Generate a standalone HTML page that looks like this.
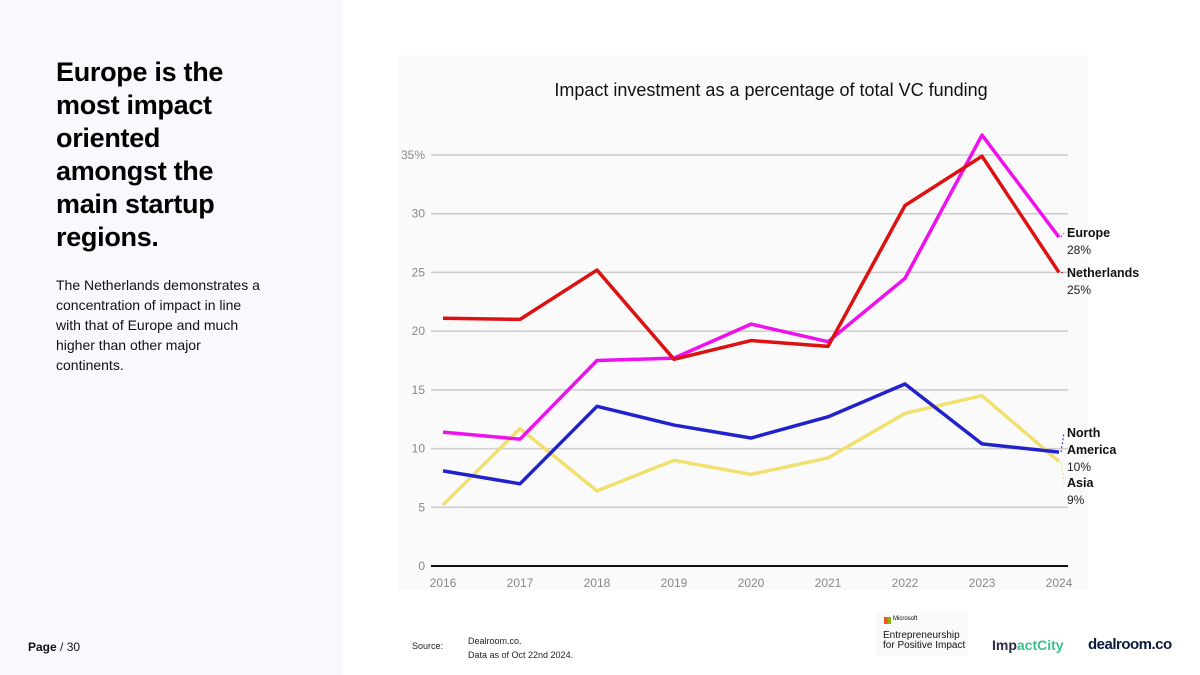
<!DOCTYPE html>
<html><head><meta charset="utf-8">
<style>
html,body{margin:0;padding:0;width:1200px;height:675px;overflow:hidden;background:#fff;font-family:"Liberation Sans",sans-serif;}
#left{position:absolute;left:0;top:0;width:342px;height:675px;background:#f8f9fd;}
#headline{position:absolute;left:56px;top:56px;font-size:27px;font-weight:bold;line-height:33px;color:#000;margin:0;letter-spacing:-0.3px}
#desc{position:absolute;left:56px;top:275px;width:210px;font-size:14px;line-height:20px;color:#111;}
#page{position:absolute;left:28px;top:640px;font-size:12px;color:#111}
#chartbg{position:absolute;left:398px;top:55px;width:690px;height:535px;background:#fafafa}
svg{position:absolute;left:0;top:0}
#source{position:absolute;left:412px;top:641px;font-size:9px;color:#222}
#src2{position:absolute;left:468px;top:634px;font-size:9px;line-height:14px;color:#222}
</style></head><body>
<div id="left">
<h1 id="headline">Europe is the<br>most impact<br>oriented<br>amongst the<br>main startup<br>regions.</h1>
<div id="desc">The Netherlands demonstrates a concentration of impact in line with that of Europe and much higher than other major continents.</div>
<div id="page"><b>Page</b> / 30</div>
</div>
<div id="chartbg"></div>
<svg id="chart" width="1200" height="675">
<text x="771" y="96" text-anchor="middle" font-size="18" fill="#111">Impact investment as a percentage of total VC funding</text>
</svg>
<div id="source">Source:</div>
<div id="src2">Dealroom.co.<br>Data as of Oct 22nd 2024.</div>
<div style="position:absolute;left:876px;top:612px;width:92px;height:44px;background:#fafafa">
 <div style="position:absolute;left:8px;top:5px;width:7px;height:7px;background:linear-gradient(90deg,#f25022 50%,#7fba00 50%)"></div>
 <div style="position:absolute;left:17px;top:4px;font-size:6px">Microsoft</div>
 <div style="position:absolute;left:7px;top:19px;font-size:10px;line-height:10px;color:#111">Entrepreneurship<br>for Positive Impact</div>
</div>
<div style="position:absolute;left:992px;top:637px;font-size:14px;font-weight:bold;color:#2a2a4a">Imp<span style="color:#3cc08a">actCity</span></div>
<div style="position:absolute;left:1088px;top:636px;font-size:15px;font-weight:bold;color:#0a1a3a;letter-spacing:-0.5px">dealroom.co</div>
<script>
const years=["2016","2017","2018","2019","2020","2021","2022","2023","2024"];
const yTicks=[0,5,10,15,20,25,30,35];
const netherlands=[21.1,21.0,25.2,17.6,19.2,18.7,30.7,34.9,25.0];
const europe=[11.4,10.8,17.5,17.7,20.6,19.1,24.5,36.7,28.0];
const northAmerica=[8.1,7.0,13.6,12.0,10.9,12.7,15.5,10.4,9.7];
const asia=[5.2,11.7,6.4,9.0,7.8,9.2,13.0,14.5,8.9];
const NS="http://www.w3.org/2000/svg";
const svg=document.getElementById('chart');
const x=i=>443+i*77;
const y=v=>566-v*(411/35);
function mk(t,a){const e=document.createElementNS(NS,t);for(const k in a)e.setAttribute(k,a[k]);svg.appendChild(e);return e;}
yTicks.forEach(t=>{
  const g=mk('line',{x1:431,x2:1068,y1:y(t),y2:y(t),stroke:t===0?'#111':'#ccc','stroke-width':t===0?2:1.5});
  
  
  const l=mk('text',{x:425,y:y(t)+4,'text-anchor':'end','font-size':12,fill:'#888'});
  l.textContent=t===35?'35%':t;
  
  
});
years.forEach((yr,i)=>{
  const l=mk('text',{x:x(i),y:587,'text-anchor':'middle','font-size':12,fill:'#888'});
  l.textContent=yr;
  
  
});
const series=[[asia,'#f2e06e','asia-line'],[northAmerica,'#2222cc','north-america-line'],[europe,'#ee11ee','europe-line'],[netherlands,'#dd1111','netherlands-line']];
series.forEach(([d,c,n])=>{
  const p=mk('polyline',{points:d.map((v,i)=>x(i)+','+y(v)).join(' '),fill:'none',stroke:c,'stroke-width':3.5,'stroke-linejoin':'round'});
  
  
});
const labels=[[europe,'Europe','#ee11ee',237,'europe-label'],[netherlands,'Netherlands','#dd1111',277,'netherlands-label'],[northAmerica,'North|America','#2222cc',437,'north-america-label'],[asia,'Asia','#f2e06e',487,'asia-label']];
labels.forEach(([d,name,c,ly,n])=>{
  const v=d[d.length-1];
  const ln=mk('line',{x1:x(8)+2,y1:y(v),x2:1064,y2:ly-4,stroke:c,'stroke-width':1,'stroke-dasharray':'2,2'});
  
  
  const parts=name.split('|');
  parts.forEach((pt,k)=>{
    const t=mk('text',{x:1067,y:ly+k*17,'font-size':12.5,'font-weight':'bold',fill:'#111'});
    t.textContent=pt;
    
    
  });
  const vt=mk('text',{x:1067,y:ly+parts.length*17,'font-size':12,fill:'#222'});
  vt.textContent=Math.round(v)+'%';
  
  
});
</script>
</body></html>
